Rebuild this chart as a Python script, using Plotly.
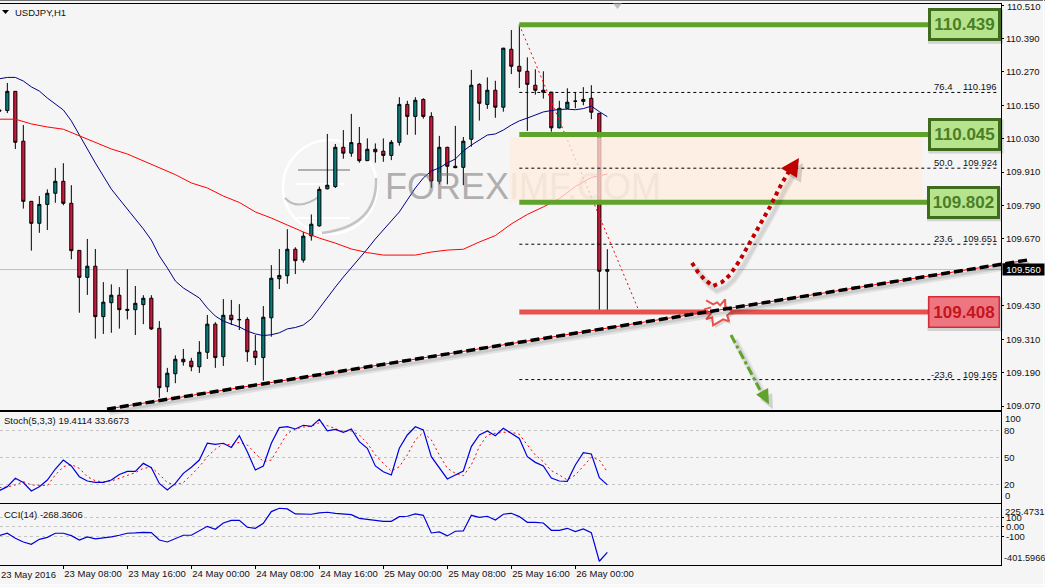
import plotly.graph_objects as go

# Hourly USDJPY bars, first bar index -1 is 23 May 00:00
bars = list(range(-1, 76))
opens = [110.133,110.131,110.200,110.021,109.805,109.726,109.794,109.834,109.877,109.798,109.629,109.532,109.572,109.391,109.441,109.468,109.417,109.416,109.434,109.457,109.349,109.139,109.186,109.238,109.231,109.211,109.263,109.364,109.247,109.396,109.381,109.381,109.267,109.244,109.387,109.527,109.538,109.633,109.594,109.681,109.717,109.850,109.858,109.999,109.978,110.013,109.951,109.992,109.985,109.970,110.017,110.153,110.110,110.171,110.110,109.877,109.999,109.931,109.927,110.028,110.225,110.153,110.204,110.143,110.351,110.290,110.272,110.222,110.204,110.197,110.069,110.139,110.164,110.164,110.175,110.121,109.554]
highs = [110.144,110.230,110.201,110.079,109.806,109.824,109.848,109.925,109.942,109.863,109.630,109.670,109.634,109.515,109.507,109.497,109.561,109.501,109.468,109.468,109.375,109.207,109.252,109.275,109.243,109.303,109.397,109.371,109.454,109.451,109.436,109.389,109.325,109.429,109.576,109.634,109.705,109.640,109.695,109.758,109.858,110.047,110.011,110.061,110.119,110.072,110.031,110.013,110.031,110.025,110.179,110.166,110.179,110.175,110.125,110.040,110.001,110.076,110.036,110.277,110.229,110.250,110.238,110.356,110.420,110.439,110.322,110.279,110.272,110.198,110.166,110.211,110.197,110.215,110.222,110.122,109.633]
lows = [110.097,110.122,109.993,109.779,109.628,109.692,109.702,109.800,109.791,109.597,109.405,109.469,109.312,109.329,109.333,109.348,109.381,109.325,109.364,109.343,109.100,109.120,109.152,109.215,109.195,109.189,109.239,109.207,109.214,109.361,109.343,109.229,109.217,109.161,109.319,109.490,109.509,109.544,109.585,109.664,109.714,109.848,109.853,109.958,109.965,109.944,109.950,109.944,109.947,109.953,110.005,110.044,110.044,110.102,109.854,109.866,109.866,109.924,109.863,110.001,110.095,110.137,110.105,110.127,110.262,110.212,110.058,110.188,110.174,110.055,110.067,110.138,110.139,110.150,110.100,109.408,109.408]
closes = [110.129,110.200,110.017,109.805,109.726,109.794,109.834,109.877,109.798,109.628,109.532,109.572,109.391,109.443,109.468,109.416,109.414,109.439,109.457,109.347,109.136,109.188,109.238,109.229,109.211,109.263,109.364,109.244,109.396,109.380,109.380,109.265,109.244,109.389,109.529,109.539,109.633,109.592,109.680,109.723,109.848,109.863,109.999,109.978,110.016,109.951,109.992,109.983,109.970,110.017,110.153,110.110,110.168,110.110,109.878,109.999,109.931,109.926,110.021,110.222,110.157,110.204,110.143,110.355,110.290,110.272,110.225,110.204,110.197,110.069,110.139,110.161,110.165,110.171,110.125,109.554,109.560]

# Moving averages
ma_fast = [110.245,110.250,110.250,110.237,110.216,110.201,110.176,110.155,110.133,110.094,110.043,109.997,109.943,109.896,109.849,109.813,109.778,109.742,109.706,109.666,109.609,109.566,109.519,109.494,109.476,109.458,109.422,109.393,109.375,109.365,109.354,109.339,109.329,109.323,109.326,109.333,109.347,109.352,109.361,109.383,109.422,109.458,109.497,109.533,109.566,109.598,109.634,109.670,109.702,109.731,109.767,109.810,109.853,109.889,109.914,109.925,109.943,109.957,109.986,110.007,110.025,110.043,110.047,110.061,110.079,110.094,110.104,110.115,110.126,110.131,110.135,110.136,110.134,110.138,110.147,110.127,110.109]
ma_slow_bars = list(range(-1, 76, 2))
ma_slow = [110.100,110.100,110.083,110.072,110.064,110.040,110.018,109.993,109.975,109.950,109.927,109.901,109.871,109.853,109.824,109.801,109.767,109.745,109.720,109.695,109.673,109.655,109.634,109.621,109.612,109.612,109.612,109.623,109.630,109.633,109.659,109.682,109.724,109.758,109.785,109.815,109.858,109.891,109.903]

# Oscillators
stoch_main = [13,17.4,26.7,22,12.6,17.4,24.8,37,47,40.4,28.5,23.7,22.2,22.2,24.8,31,34.4,34.4,43.3,38.5,21,13.7,21,32.2,38.9,47,65.6,64.4,65.6,61,74,56.3,36,40.4,65.6,83,84,81.5,85.6,84.4,92.2,79.3,81,77.8,81.5,67.4,60,40.4,34,30.4,60,74.8,84,80.4,50.7,37.8,26,30.4,34.8,61.9,74.8,79.3,74,82.2,76.7,71,50.7,44.4,40.4,27,23.7,23.3,41.5,55.2,53.7,27.4,19.4114]
stoch_signal = [16.3,17,19.3,23,19.3,18.5,18.5,30.4,39.6,42,37.8,28.5,24,22.6,23.7,26.7,29.6,33,37.8,38.9,31,22,19.3,22,30.4,39.6,50.7,59,65,63.7,66.7,63.7,54.4,45.2,47,61.9,76.7,81.5,83.7,84.4,88.5,85.2,81.5,78.5,79.3,74.8,65.6,52.6,43.3,34.8,39.6,52.6,69.3,77.8,69.3,52.6,37.8,32.2,29.6,41.5,61.9,74.8,76.7,77.8,77.8,75.6,63.7,52.6,45.2,35.2,30.4,24.8,30.4,40.4,50,47,33.6673]
cci = [-93,-68,-121,-160,-184,-132,-111,-68,-68,-93,-139,-107,-128,-118,-107,-89,-68,-65,-58,-61,-139,-160,-128,-89,-89,-44,5,-26,40,68,68,-5,-16,37,160,195,188,135,132,132,146,153,142,135,128,89,79,72,58,58,107,111,135,121,-65,-54,-96,-47,-44,121,100,111,72,132,142,107,47,47,40,-37,-37,-16,-51,-23,-61,-363,-268.3606]

# Horizontal levels and the retracement grid
green_levels = [110.439, 110.045, 109.802]
red_level = 109.408
last_price = 109.560
fib_levels = [110.196, 109.924, 109.651, 109.165]
fib_pcts = ["76.4", "50.0", "23.6", "-23.6"]
zone_prices = [110.035, 109.802]
zone_bars = [62.84, 114.4]
level_bars = [64, 115.1]
fib_bars = [64, 123.7]
fib_diag_bars = [64, 79]
fib_diag_prices = [110.439, 109.408]
trend_bars = [12.46, 127.46]
trend_prices = [109.059, 109.594]

# Scenario arrows, (bar, price)
up_bars = [85.58,86.33,87.2,88.2,89.33,90.33,91.58,92.83,94.08,95.33,96.83,97.83]
up_prices = [109.584,109.551,109.523,109.501,109.515,109.541,109.594,109.659,109.720,109.785,109.871,109.918]
up_head_bars = [98.96,96.7,98.7]
up_head_prices = [109.961,109.924,109.890]
down_bars = [90.46,94.08]
down_prices = [109.325,109.128]
down_head_bars = [95.2,93.6,95.1]
down_head_prices = [109.076,109.111,109.135]
burst_bar, burst_price = 89.1, 109.41
burst_dx = [-14,-7,-3,0,5,5,12,7,9,3,-7,-8,-14,-9,-16,-9]
burst_dy = [-11,-7,-9,-6,-12,-5,0,4,10,8,14,6,8,2,-2,-4]

# Tick labels
price_ticks = [110.51,110.39,110.27,110.15,110.03,109.91,109.79,109.67,109.43,109.31,109.19,109.07]
time_ticks = list(range(-1, 72, 8))
time_labels = ["23 May 2016","23 May 08:00","23 May 16:00","24 May 00:00","24 May 08:00",
               "24 May 16:00","25 May 00:00","25 May 08:00","25 May 16:00","26 May 00:00"]

W, H = 1045, 587
BG = "#f5f5f5"
INK = "#111111"
FONT = "Liberation Sans"
TICK_SIZE = 9.5
TEAL, CRIMSON = "#008080", "#dc143c"
GREEN, RED = "#5fa32a", "#e8524c"
PX_PER_BAR, PX_PER_PRICE = 8.0, 278.5


def xpx(bar):
    return 7.33 + PX_PER_BAR * bar


def ypx(price):
    return 5 + (110.51 - price) * PX_PER_PRICE


def px(x, y):
    return x / W, 1 - y / H


def shift(xs, ys, dx, dy):
    return [b + dx / PX_PER_BAR for b in xs], [p - dy / PX_PER_PRICE for p in ys]


x_range = [-7.33 / PX_PER_BAR, (1001 - 7.33) / PX_PER_BAR]
fig = go.Figure()


def line(xs, ys, color, width, dash="solid", xa="x", ya="y"):
    fig.add_trace(go.Scatter(x=xs, y=ys, mode="lines", xaxis=xa, yaxis=ya, hoverinfo="skip",
                             showlegend=False, line=dict(color=color, width=width, dash=dash)))


def poly(xs, ys, fill, edge=None, width=0):
    fig.add_trace(go.Scatter(x=xs, y=ys, mode="lines", fill="toself", fillcolor=fill, hoverinfo="skip",
                             showlegend=False, line=dict(color=edge or "rgba(0,0,0,0)", width=width)))


fig.add_trace(go.Candlestick(
    x=bars, open=opens, high=highs, low=lows, close=closes, showlegend=False, hoverinfo="skip",
    whiskerwidth=0,
    increasing=dict(line=dict(color="#000000", width=1), fillcolor=TEAL),
    decreasing=dict(line=dict(color="#000000", width=1), fillcolor=CRIMSON),
))
line(bars, ma_fast, "#000080", 1)
line(ma_slow_bars, ma_slow, "#ff0000", 1)
line(fib_diag_bars, fib_diag_prices, "#ff0000", 1, "2px,3px")

# Watermark wordmark; the second half sits behind the shaded zone and reads fainter
for word, left_px, alpha in [("FOREX", 385, 0.5), ("IMF.COM", 509, 0.3)]:
    fig.add_trace(go.Scatter(
        x=[(left_px - 7.33) / PX_PER_BAR], y=[109.846], mode="text", text=[word],
        textposition="middle right", hoverinfo="skip", showlegend=False,
        textfont=dict(family="Liberation Sans", size=36, color=f"rgba(105,105,105,{alpha})"),
    ))

# Shaded supply zone over the candles
poly([zone_bars[0], zone_bars[1], zone_bars[1], zone_bars[0]],
     [zone_prices[0], zone_prices[0], zone_prices[1], zone_prices[1]], "rgba(255,236,220,0.75)")

for lvl in fib_levels:
    line(fib_bars, [lvl, lvl], "#000000", 1, "3px,3px")
for lvl in green_levels:
    line(level_bars, [lvl, lvl], GREEN, 5)
line(level_bars, [red_level, red_level], RED, 5)

# Scenario arrow shadows, then the arrows
for dxy, w, a in [((4, 5), 7, 0.05), ((4, 5), 4, 0.08)]:
    sx, sy = shift(up_bars, up_prices, *dxy)
    line(sx, sy, f"rgba(0,0,0,{a})", w)
    sx, sy = shift(down_bars, down_prices, *dxy)
    line(sx, sy, f"rgba(0,0,0,{a})", w)
sx, sy = shift(up_head_bars, up_head_prices, 4, 5)
poly(sx, sy, "rgba(0,0,0,0.15)")
sx, sy = shift(down_head_bars, down_head_prices, 4, 5)
poly(sx, sy, "rgba(0,0,0,0.15)")
line(up_bars, up_prices, "#c00000", 4, "4px,4px")
poly(up_head_bars, up_head_prices, "#c00000")
line(down_bars, down_prices, GREEN, 3, "9px,3px,3px,3px")
poly(down_head_bars, down_head_prices, GREEN)

# Breakout burst on the support level
bx, by = shift([burst_bar + d / PX_PER_BAR for d in burst_dx],
               [burst_price - d / PX_PER_PRICE for d in burst_dy], 2, 3)
poly(bx, by, "rgba(0,0,0,0.12)")
poly([burst_bar + d / PX_PER_BAR for d in burst_dx],
     [burst_price - d / PX_PER_PRICE for d in burst_dy], "#fbfbfb", RED, 2)

# Stochastic pane
line(bars, stoch_signal, "#ff0000", 1, "2px,3px", "x2", "y2")
line(bars, stoch_main, "#0000dd", 1.2, "solid", "x2", "y2")
# CCI pane
line(bars, cci, "#0000dd", 1.2, "solid", "x3", "y3")

shapes = []
# Last price line sits behind the candles
shapes.append(dict(type="line", xref="x domain", yref="y", x0=0, x1=1, y0=last_price, y1=last_price,
                   layer="below", line=dict(color="#bdbdbd", width=1)))


def ppath(points):
    return "M " + " L ".join(f"{a:.5f},{b:.5f}" for a, b in (px(x, y) for x, y in points))


def pline(p0, p1, color, width, layer="below", dash="solid"):
    a, b = px(*p0), px(*p1)
    shapes.append(dict(type="line", xref="paper", yref="paper", x0=a[0], y0=a[1], x1=b[0], y1=b[1],
                       layer=layer, line=dict(color=color, width=width, dash=dash)))


# Watermark logo: pale ring, grey crescent and bars
c0, c1 = px(283, 140), px(377, 234)
shapes.append(dict(type="circle", xref="paper", yref="paper", x0=c0[0], y0=c0[1], x1=c1[0], y1=c1[1],
                   layer="below", line=dict(color="#ffffff", width=2.5)))
a, q, b = px(376, 178), px(378, 226), px(322, 233)
shapes.append(dict(type="path", xref="paper", yref="paper", layer="below",
                   path=f"M {a[0]:.5f},{a[1]:.5f} Q {q[0]:.5f},{q[1]:.5f} {b[0]:.5f},{b[1]:.5f}",
                   line=dict(color="#c4c4c4", width=2.5)))
a, q, b = px(285, 198), px(298, 212), px(320, 196)
shapes.append(dict(type="path", xref="paper", yref="paper", layer="below",
                   path=f"M {a[0]:.5f},{a[1]:.5f} Q {q[0]:.5f},{q[1]:.5f} {b[0]:.5f},{b[1]:.5f}",
                   line=dict(color="#bcbcbc", width=2)))
pline((298, 170), (350, 170), "#b0b0b0", 2)
pline((296, 184), (345, 184), "#ffffff", 2)
pline((296, 218), (350, 218), "#ffffff", 2)

# Trend line with soft shadow runs past the price axis
tp = [(xpx(b), ypx(p)) for b, p in zip(trend_bars, trend_prices)]
pline((tp[0][0] + 3, tp[0][1] + 4), (tp[1][0] + 3, tp[1][1] + 4), "rgba(0,0,0,0.08)", 5, "above")
pline((tp[0][0] + 2, tp[0][1] + 3), (tp[1][0] + 2, tp[1][1] + 3), "rgba(0,0,0,0.10)", 3, "above")
pline(tp[0], tp[1], "#ff0000", 1, "above")
pline(tp[0], tp[1], "#000000", 3.5, "above", "9px,4px")

# Drop shadows under the level boxes
label_cx = [964, 964.5, 963, 963.5]
label_levels = green_levels + [red_level]
for cx, lvl in zip(label_cx, label_levels):
    cy = ypx(lvl)
    a, b = px(cx - 36, cy - 15), px(cx + 39, cy + 19)
    shapes.append(dict(type="rect", xref="paper", yref="paper", x0=a[0], y0=a[1], x1=b[0], y1=b[1],
                       layer="above", fillcolor="rgba(0,0,0,0.14)", line=dict(width=0)))

# Outer window edges, chart-shift marker and symbol dropdown marker
pline((0, 0.5), (W, 0.5), "#707070", 1, "above")
pline((1043.5, 0), (1043.5, H), "#ffffff", 1, "above")
pline((0, 585), (W, 585), "#fbfbfb", 2, "above")
shapes.append(dict(type="path", xref="paper", yref="paper", layer="above", fillcolor="#c0c0c0",
                   line=dict(width=0), path=ppath([(613, 3.5), (622, 3.5), (617.5, 9)]) + " Z"))
shapes.append(dict(type="path", xref="paper", yref="paper", layer="above", fillcolor="#000000",
                   line=dict(width=0), path=ppath([(2, 10), (9, 10), (5.5, 14)]) + " Z"))

annotations = []


def note(x, y, text, size=TICK_SIZE, color=INK, xanchor="left", yanchor="middle", xref="paper", yref="paper", **kw):
    annotations.append(dict(x=x, y=y, text=text, xref=xref, yref=yref, showarrow=False, xanchor=xanchor,
                            yanchor=yanchor, borderpad=0, font=dict(family=FONT, size=size, color=color), **kw))


note(14 / W, 1 - 12 / H, "USDJPY,H1")
note(3 / W, 1 - 420 / H, "Stoch(5,3,3) 19.4114 33.6673")
note(3 / W, 1 - 514 / H, "CCI(14) -268.3606")

for lvl, pct in zip(fib_levels, fib_pcts):
    note(954 / W, lvl, pct, xanchor="right", yanchor="bottom", yref="y", yshift=-1)
    note(998 / W, lvl, f"{lvl:.3f}", xanchor="right", yanchor="bottom", yref="y", yshift=-1)

# Labels that sit on the very edge of their axes
note(1006 / W, 1 - 6 / H, f"{price_ticks[0]:.3f}")
note(0, 1 - 574 / H, time_labels[0])

# Level boxes
for cx, lvl in zip(label_cx[:3], green_levels):
    annotations.append(dict(x=cx / W, y=lvl, xref="paper", yref="y", text=f"<b>{lvl:.3f}</b>", showarrow=False,
                            xanchor="center", yanchor="middle", width=67, height=27, borderpad=0, borderwidth=3,
                            bgcolor="#b5e48c", bordercolor="#3e6b1e",
                            font=dict(family="Liberation Sans", size=17, color="#4c7d28")))
annotations.append(dict(x=label_cx[3] / W, y=red_level, xref="paper", yref="y", text=f"<b>{red_level:.3f}</b>",
                        showarrow=False, xanchor="center", yanchor="middle", width=69, height=29, borderpad=0,
                        borderwidth=1.5, bgcolor="#ee7680", bordercolor="#d42c36",
                        font=dict(family="Liberation Sans", size=17, color="#c4161f")))

# Current price tag on the axis
annotations.append(dict(x=1002 / W, y=last_price, xref="paper", yref="y", text=f"{last_price:.3f}", showarrow=False,
                        xanchor="left", yanchor="middle", width=41, height=11, borderpad=0, align="center",
                        bgcolor="#000000", font=dict(family=FONT, size=TICK_SIZE, color="#ffffff")))

# Range-end labels of the lower panes are inset from their ticks
note(1004 / W, 1 - 418 / H, "100")
note(1004 / W, 1 - 495 / H, "0")
note(1004 / W, 1 - 511.7 / H, "225.4731")
note(1003 / W, 1 - 557.7 / H, "-401.5966", size=9.2)

frame = dict(showline=True, linecolor="#000000", linewidth=1, mirror=True, zeroline=False, showgrid=False,
             automargin=False)
xbase = dict(frame, domain=[0, 1001 / W], range=x_range, showticklabels=False, ticks="")
tfont = dict(family=FONT, size=TICK_SIZE, color=INK)


def ydomain(top, bottom):
    return [1 - bottom / H, 1 - top / H]


grid = dict(showgrid=True, gridcolor="#c4c4c4", griddash="3px,3px", gridwidth=1)
pane_ticks = dict(frame)
pane_ticks.update(grid)

fig.update_layout(
    width=W, height=H, autosize=False, margin=dict(l=0, r=0, t=0, b=0, pad=0),
    paper_bgcolor=BG, plot_bgcolor=BG, showlegend=False, boxgap=0.44, boxmode="group",
    xaxis=dict(xbase, anchor="y", rangeslider=dict(visible=False)),
    xaxis2=dict(xbase, anchor="y2"),
    xaxis3=dict(xbase, anchor="y3", ticks="outside", ticklen=3, tickcolor="#000000", showticklabels=True,
                tickmode="array", tickvals=time_ticks, ticktext=time_labels, tickfont=tfont, tickangle=0,
                ticklabelposition="outside right"),
    yaxis=dict(frame, anchor="x", side="right", domain=ydomain(3.5, 409.5),
               range=[110.51 - 404.5 / PX_PER_PRICE, 110.51 + 1.5 / PX_PER_PRICE],
               tickmode="array", tickvals=price_ticks, ticktext=[f"{v:.3f}" for v in price_ticks],
               ticks="outside", ticklen=2, tickcolor="#000000", tickfont=tfont),
    yaxis2=dict(pane_ticks, anchor="x2", side="right", domain=ydomain(411.5, 502.5), range=[-0.2, 100.9],
                tickmode="array", tickvals=[20, 50, 80], ticktext=["20", "50", "80"], tickfont=tfont, ticks=""),
    yaxis3=dict(pane_ticks, anchor="x3", side="right", domain=ydomain(504, 564.5), range=[-397, 240],
                tickmode="array", tickvals=[-100, 0, 100], ticktext=["-100", "0.00", "100"], tickfont=tfont,
                ticks="outside", ticklen=2, tickcolor="#000000"),
    shapes=shapes, annotations=annotations,
)

fig.write_html("out.html")
